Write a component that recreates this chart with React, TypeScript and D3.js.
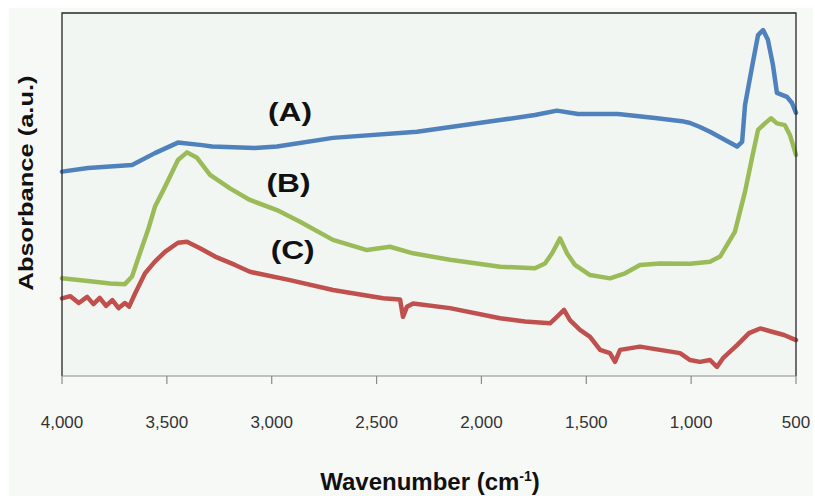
import React from "react";
import * as d3 from "d3";

// Wavenumbers (cm-1) and absorbance (a.u.)
const wnA = [4000, 3876, 3666, 3557, 3447, 3332, 3285, 3080, 2975, 2708, 2307, 1911, 1745, 1640, 1539, 1349, 1172, 1044, 1005, 958, 910, 781, 757, 743, 705, 681, 657, 634, 610, 591, 543, 519, 500];
const absA = [0.563, 0.573, 0.581, 0.614, 0.643, 0.636, 0.632, 0.628, 0.632, 0.656, 0.673, 0.705, 0.719, 0.731, 0.722, 0.722, 0.711, 0.702, 0.697, 0.686, 0.673, 0.632, 0.645, 0.747, 0.866, 0.939, 0.953, 0.926, 0.857, 0.78, 0.769, 0.752, 0.725];

const wnB = [4000, 3876, 3771, 3700, 3666, 3628, 3590, 3557, 3509, 3447, 3404, 3356, 3294, 3199, 3104, 2975, 2865, 2708, 2546, 2436, 2326, 2150, 1911, 1745, 1697, 1663, 1625, 1592, 1554, 1482, 1387, 1315, 1244, 1149, 1005, 910, 862, 791, 743, 710, 681, 648, 619, 591, 553, 529, 500];
const absB = [0.269, 0.262, 0.255, 0.253, 0.274, 0.339, 0.402, 0.466, 0.521, 0.595, 0.616, 0.601, 0.554, 0.517, 0.485, 0.457, 0.425, 0.375, 0.347, 0.356, 0.338, 0.32, 0.301, 0.297, 0.31, 0.338, 0.379, 0.338, 0.306, 0.278, 0.269, 0.283, 0.306, 0.31, 0.309, 0.315, 0.329, 0.398, 0.508, 0.6, 0.678, 0.696, 0.71, 0.696, 0.691, 0.664, 0.609];

const wnC = [4000, 3960, 3920, 3880, 3850, 3820, 3790, 3760, 3730, 3700, 3680, 3651, 3604, 3557, 3509, 3447, 3404, 3342, 3270, 3175, 3104, 2913, 2708, 2469, 2388, 2374, 2355, 2326, 2150, 1911, 1792, 1673, 1640, 1606, 1578, 1530, 1482, 1434, 1387, 1363, 1339, 1244, 1149, 1053, 1005, 958, 910, 877, 848, 781, 724, 671, 614, 557, 500];
const absC = [0.214, 0.22, 0.201, 0.218, 0.198, 0.215, 0.193, 0.209, 0.187, 0.201, 0.191, 0.228, 0.283, 0.315, 0.342, 0.367, 0.37, 0.352, 0.329, 0.306, 0.287, 0.264, 0.237, 0.214, 0.211, 0.163, 0.191, 0.2, 0.187, 0.159, 0.15, 0.145, 0.163, 0.182, 0.154, 0.127, 0.108, 0.072, 0.063, 0.039, 0.072, 0.081, 0.072, 0.063, 0.044, 0.039, 0.044, 0.025, 0.049, 0.085, 0.118, 0.131, 0.122, 0.113, 0.099];

const seriesNames = ["(A)", "(B)", "(C)"];
const seriesColors = ["#4F81BD", "#9BBB59", "#C0504D"];
const labelWn = [2913, 2920, 2900];
const labelAbs = [0.727, 0.532, 0.347];
const xTicks = [4000, 3500, 3000, 2500, 2000, 1500, 1000, 500];
const xTitle = "Wavenumber (cm";
const yTitle = "Absorbance (a.u.)";

export default function App() {
  const W = 815, H = 496;
  const left = 62, right = 796, top = 13, bottom = 376;
  const x = d3.scaleLinear().domain([4000, 500]).range([left, right]);
  const y = d3.scaleLinear().domain([0, 1]).range([bottom, top]);
  const line = d3.line<[number, number]>().x(d => x(d[0])).y(d => y(d[1])).curve(d3.curveLinear);
  const series = [
    wnA.map((w, i) => [w, absA[i]] as [number, number]),
    wnB.map((w, i) => [w, absB[i]] as [number, number]),
    wnC.map((w, i) => [w, absC[i]] as [number, number]),
  ];
  const fmt = d3.format(",");
  return (
    <svg width={W} height={H} style={{ position: "absolute", left: 0, top: 0 }} fontFamily="'Liberation Sans', Arial, sans-serif">
      <rect x={0} y={0} width={W} height={H} fill="#ffffff" />
      <rect x={9} y={8} width={W - 11} height={H - 8} fill="#f7f9f7" />
      <rect x={left} y={top} width={right - left} height={bottom - top} fill="#f1f6f2" />
      {series.map((s, i) => (
        <path key={i} d={line(s) || ""} fill="none" stroke={seriesColors[i]} strokeWidth={4.5} strokeLinejoin="round" strokeLinecap="round" />
      ))}
      <path d={`M${left},${bottom}V${top}H${right}V${bottom}`} fill="none" stroke="#262626" strokeWidth={1.3} />
      <line x1={left} x2={right} y1={bottom} y2={bottom} stroke="#8a8a8a" strokeWidth={1.2} />
      {xTicks.map(t => (
        <g key={t}>
          <line x1={x(t)} x2={x(t)} y1={bottom} y2={bottom + 8} stroke="#8a8a8a" strokeWidth={1.2} />
          <text x={x(t)} y={428} textAnchor="middle" fontSize={17} fill="#333">{fmt(t)}</text>
        </g>
      ))}
      {seriesNames.map((n, i) => (
        <text key={n} x={x(labelWn[i])} y={y(labelAbs[i])} textAnchor="middle" dominantBaseline="central" fontSize={26} fontWeight="bold" fill="#111" textLength={44} lengthAdjust="spacingAndGlyphs">{n}</text>
      ))}
      <text x={430} y={490} textAnchor="middle" fontSize={24} fontWeight="bold" fill="#111">
        {xTitle}<tspan dy={-9} fontSize={14}>-1</tspan><tspan dy={9}>)</tspan>
      </text>
      <text transform={`translate(33,183) rotate(-90)`} textAnchor="middle" fontSize={21} fontWeight="bold" fill="#111" textLength={215} lengthAdjust="spacingAndGlyphs">{yTitle}</text>
    </svg>
  );
}
